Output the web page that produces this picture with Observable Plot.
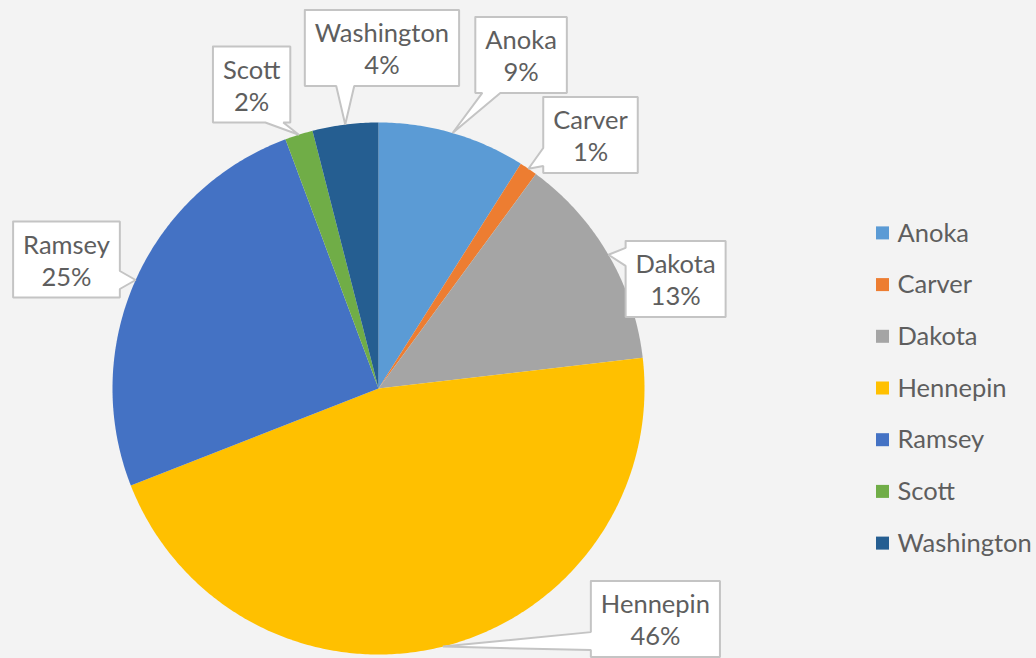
<!DOCTYPE html>
<html><head><meta charset="utf-8">
<script src="https://cdn.jsdelivr.net/npm/d3@7"></script>
<script src="https://cdn.jsdelivr.net/npm/@observablehq/plot@0.6"></script>
<style>
html,body{margin:0;padding:0;background:#f3f3f3;overflow:hidden;}
#chart{width:1036px;height:658px;}
</style></head><body><div id="chart"></div>
<script>
// ---- data ----
const counties = ["Anoka","Carver","Dakota","Hennepin","Ramsey","Scott","Washington"];
const shares = [9.0, 1.1, 13.1, 46.0, 25.3, 1.7, 4.0];
const pctLabels = ["9%","1%","13%","46%","25%","2%","4%"];
const colors = ["#5B9BD5","#ED7D31","#A5A5A5","#FFC000","#4472C4","#70AD47","#255E91"];
// ---- layout: label box centres relative to pie centre, in radii ----
const labelDX = [0.536, 0.797, 1.117, 1.041, -1.173, -0.477, 0.013];
const labelDY = [-1.254, -0.953, -0.412, 0.867, -0.485, -1.143, -1.280];

const W = 1036, H = 658, CX = 378, CY = 388, R = 266;
const FONT = "Lato, 'Open Sans', sans-serif", FS = 25.5, TEXT = "#5e5e5e";

const arcs = d3.pie().sort(null).value(d => d)(shares);

// slice polygons
const slicePts = [];
arcs.forEach((a, i) => {
  slicePts.push({name: counties[i], x: CX, y: CY});
  const n = Math.max(4, Math.ceil((a.endAngle - a.startAngle) / 0.01));
  for (let k = 0; k <= n; k++) {
    const t = a.startAngle + (a.endAngle - a.startAngle) * k / n;
    slicePts.push({name: counties[i], x: CX + R * Math.sin(t), y: CY - R * Math.cos(t)});
  }
  slicePts.push({name: counties[i], x: CX, y: CY});
});

// text measuring
const ctx = document.createElement("canvas").getContext("2d");
ctx.font = `${FS}px ${FONT}`;
const tw = s => ctx.measureText(s).width;

// callouts
const calloutPts = [], labels = [];
arcs.forEach((a, i) => {
  const mid = (a.startAngle + a.endAngle) / 2;
  const tip = [CX + R * Math.sin(mid), CY - R * Math.cos(mid)];
  const cx = CX + labelDX[i] * R, cy = CY + labelDY[i] * R;
  const bw = Math.max(tw(counties[i]), tw(pctLabels[i])) + 20, bh = 76;
  const L = cx - bw / 2, Rr = cx + bw / 2, T = cy - bh / 2, B = cy + bh / 2;
  const ov = {left: L - tip[0], right: tip[0] - Rr, top: T - tip[1], bottom: tip[1] - B};
  const side = Object.keys(ov).reduce((p, c) => ov[c] > ov[p] ? c : p);
  const hw = 9, m = 16;
  const clamp = (v, lo, hi) => Math.max(lo, Math.min(hi, v));
  const pts = [[L, T]];
  if (side === "top") { const c = clamp(tip[0], L + m, Rr - m); pts.push([c - hw, T], tip, [c + hw, T]); }
  pts.push([Rr, T]);
  if (side === "right") { const c = clamp(tip[1], T + m, B - m); pts.push([Rr, c - hw], tip, [Rr, c + hw]); }
  pts.push([Rr, B]);
  if (side === "bottom") { const c = clamp(tip[0], L + m, Rr - m); pts.push([c + hw, B], tip, [c - hw, B]); }
  pts.push([L, B]);
  if (side === "left") { const c = clamp(tip[1], T + m, B - m); pts.push([L, c + hw], tip, [L, c - hw]); }
  pts.push([L, T]);
  pts.forEach(p => calloutPts.push({name: counties[i], x: p[0], y: p[1]}));
  labels.push({x: cx, y: cy, text: counties[i] + "\n" + pctLabels[i]});
});

// legend
const legend = counties.map((c, i) => ({name: c, y: CY + (i - 3) * 51.7}));

const chart = Plot.plot({
  width: W, height: H, margin: 0,
  x: {domain: [0, W], range: [0, W], axis: null},
  y: {domain: [0, H], range: [0, H], axis: null},
  color: {domain: counties, range: colors},
  style: {background: "transparent", fontFamily: FONT},
  marks: [
    Plot.line(slicePts, {x: "x", y: "y", z: "name", fill: "name", stroke: "none", curve: "linear"}),
    Plot.line(calloutPts, {x: "x", y: "y", z: "name", fill: "white", stroke: "#c4c4c4", strokeWidth: 2, strokeLinejoin: "miter", curve: "linear"}),
    Plot.text(labels, {x: "x", y: "y", text: "text", fontSize: FS, lineHeight: 1.25, fill: TEXT}),
    Plot.rect(legend, {x1: 876, x2: 889, y1: d => d.y - 6.5, y2: d => d.y + 6.5, fill: "name"}),
    Plot.text(legend, {x: 897, y: "y", text: "name", textAnchor: "start", fontSize: FS, fill: TEXT})
  ]
});
document.getElementById("chart").appendChild(chart);
</script></body></html>
